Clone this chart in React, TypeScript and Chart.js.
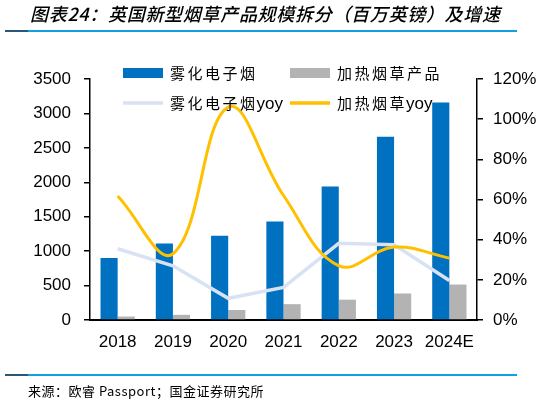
import { useEffect, useRef } from 'react';
import { Chart, registerables } from 'chart.js';

Chart.register(...registerables);

const categories = ['2018', '2019', '2020', '2021', '2022', '2023', '2024E'];
const vapeSales = [900, 1110, 1225, 1430, 1940, 2660, 3160];
const heatedSales = [50, 75, 145, 230, 295, 385, 515];
const vapeYoy = [0.355, 0.27, 0.108, 0.162, 0.382, 0.375, 0.197];
const heatedYoy = [0.617, 0.33, 1.06, 0.62, 0.27, 0.363, 0.308];

const titleText = '图表24：英国新型烟草产品规模拆分（百万英镑）及增速';
const sourceText = '来源：欧睿 Passport；国金证券研究所';
const legendNames = ['雾化电子烟', '加热烟草产品', '雾化电子烟', '加热烟草'];
const legendSuffix = ['', '', 'yoy', 'yoy'];

const BLUE = '#0070c0';
const GRAY = '#b3b3b3';
const LIGHT = '#d9e2f3';
const YELLOW = '#ffc000';
const CJK = '"Noto Sans CJK SC", sans-serif';
const SANS = '"Liberation Sans", Arial, sans-serif';

const framePlugin = {
  id: 'frame',
  afterDraw(chart: any) {
    const ctx = chart.ctx as CanvasRenderingContext2D;
    const w = chart.width;
    const area = chart.chartArea;
    ctx.save();
    // title
    ctx.fillStyle = '#000';
    ctx.textBaseline = 'middle';
    ctx.textAlign = 'left';
    ctx.font = `italic 500 18px ${CJK}`;
    (ctx as any).letterSpacing = '0.7px';
    ctx.fillText(titleText, 30, 14);
    (ctx as any).letterSpacing = '0px';
    // rules
    const rule = (y: number) => {
      ctx.fillStyle = '#2a5878';
      ctx.fillRect(5, y - 1, 23, 2);
      ctx.fillStyle = '#12a0e0';
      ctx.fillRect(28, y - 1, w - 28 - 43, 2);
    };
    rule(31);
    rule(375);
    // source
    ctx.fillStyle = '#000';
    ctx.font = `13px ${CJK}`;
    (ctx as any).letterSpacing = '0.5px';
    ctx.fillText(sourceText, 28, 391);
    (ctx as any).letterSpacing = '0px';

    // legend
    const colors = [BLUE, GRAY, LIGHT, YELLOW];
    const markX = [area.left + 33, area.left + 200, area.left + 33, area.left + 200];
    const rowY = [area.top - 6, area.top - 6, area.top + 24, area.top + 24];
    for (let i = 0; i < 4; i++) {
      const x = markX[i];
      const y = rowY[i];
      ctx.fillStyle = colors[i];
      if (i < 2) {
        ctx.fillRect(x, y - 5, 40, 10);
      } else {
        ctx.fillRect(x, y - 1.75, 40, 3.5);
      }
      ctx.fillStyle = '#000';
      ctx.font = `15px ${CJK}`;
      (ctx as any).letterSpacing = '2.5px';
      const tx = x + 47;
      ctx.fillText(legendNames[i], tx, y);
      const tw = ctx.measureText(legendNames[i]).width;
      (ctx as any).letterSpacing = '0px';
      if (legendSuffix[i]) {
        ctx.font = `17px ${SANS}`;
        ctx.fillText(legendSuffix[i], tx + tw - 1, y + 1);
      }
    }
    ctx.restore();
  },
};

export default function App() {
  const ref = useRef<HTMLCanvasElement>(null);

  useEffect(() => {
    if (!ref.current) return;
    const tickFont = { family: SANS, size: 17 };
    const chart = new Chart(ref.current, {
      type: 'bar',
      data: {
        labels: categories,
        datasets: [
          {
            type: 'line',
            label: '加热烟草yoy',
            data: heatedYoy,
            yAxisID: 'y1',
            borderColor: YELLOW,
            backgroundColor: YELLOW,
            borderWidth: 3,
            pointRadius: 0,
            tension: 0.4,
            order: 0,
          } as any,
          {
            type: 'line',
            label: '雾化电子烟yoy',
            data: vapeYoy,
            yAxisID: 'y1',
            borderColor: LIGHT,
            backgroundColor: LIGHT,
            borderWidth: 3.5,
            pointRadius: 0,
            tension: 0,
            order: 1,
          } as any,
          {
            type: 'bar',
            label: '雾化电子烟',
            data: vapeSales,
            yAxisID: 'y',
            backgroundColor: BLUE,
            borderWidth: 0,
            categoryPercentage: 0.62,
            barPercentage: 1.0,
            order: 2,
          } as any,
          {
            type: 'bar',
            label: '加热烟草产品',
            data: heatedSales,
            yAxisID: 'y',
            backgroundColor: GRAY,
            borderWidth: 0,
            categoryPercentage: 0.62,
            barPercentage: 1.0,
            order: 2,
          } as any,
        ],
      },
      options: {
        responsive: false,
        animation: false,
        devicePixelRatio: 1,
        layout: { padding: { top: 79, left: 0, right: 0, bottom: 0 } },
        plugins: {
          legend: { display: false },
          tooltip: { enabled: false },
        },
        scales: {
          x: {
            grid: { display: false },
            border: { display: true, color: '#000', width: 2 },
            ticks: { color: '#000', font: tickFont, padding: 4, maxRotation: 0 },
            afterFit: (s: any) => {
              s.height = 85;
            },
          },
          y: {
            position: 'left',
            min: 0,
            max: 3500,
            grid: { display: true, drawOnChartArea: false, drawTicks: true, tickLength: 6, color: '#000', lineWidth: 1.5 },
            border: { display: true, color: '#000', width: 1.5 },
            ticks: {
              stepSize: 500,
              color: '#000',
              font: tickFont,
              padding: 13,
              callback: (v: any) => String(v),
            },
            afterFit: (s: any) => {
              s.width = 90;
            },
          },
          y1: {
            position: 'right',
            min: 0,
            max: 1.2,
            grid: { display: true, drawOnChartArea: false, drawTicks: true, tickLength: 6, color: '#000', lineWidth: 1.5 },
            border: { display: true, color: '#000', width: 1.5 },
            ticks: {
              stepSize: 0.2,
              color: '#000',
              font: tickFont,
              padding: 10,
              callback: (v: any) => `${Math.round(Number(v) * 100)}%`,
            },
            afterFit: (s: any) => {
              s.width = 83;
            },
          },
        },
      },
      plugins: [framePlugin],
    });
    return () => chart.destroy();
  }, []);

  return (
    <div style={{ position: 'fixed', left: 0, top: 0, width: 560, height: 405, background: '#fff' }}>
      <canvas ref={ref} width={560} height={405} style={{ width: 560, height: 405, display: 'block' }} />
    </div>
  );
}
